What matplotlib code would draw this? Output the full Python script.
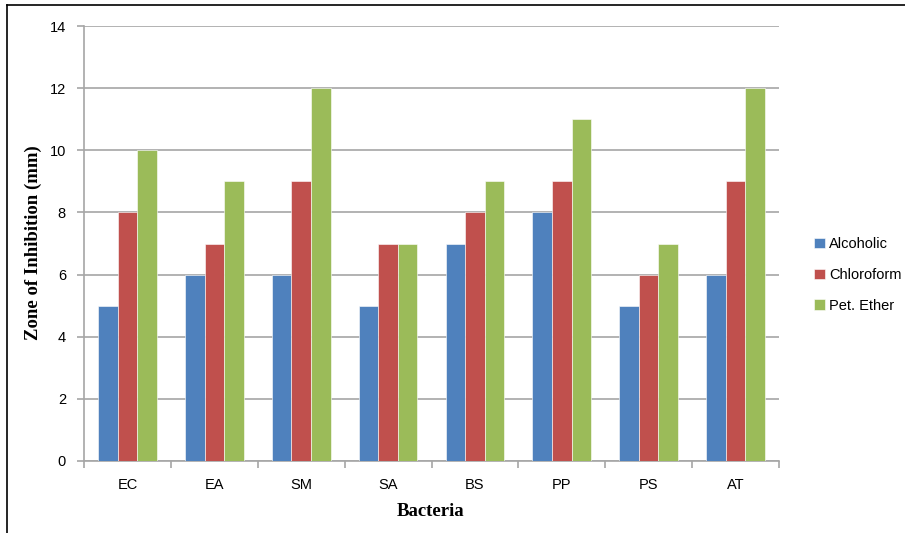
import matplotlib
matplotlib.use("Agg")
import matplotlib.pyplot as plt
import numpy as np
from matplotlib.lines import Line2D

categories = ["EC", "EA", "SM", "SA", "BS", "PP", "PS", "AT"]
alcoholic = [5, 6, 6, 5, 7, 8, 5, 6]
chloroform = [8, 7, 9, 7, 8, 9, 6, 9]
pet_ether = [10, 9, 12, 7, 9, 11, 7, 12]
series_names = ["Alcoholic", "Chloroform", "Pet. Ether"]
colors = ["#4F81BD", "#C0504D", "#9BBB59"]

W, H = 905, 533
fig = plt.figure(figsize=(W / 100, H / 100), dpi=100)
ax = fig.add_axes([84 / W, 1 - 461 / H, (779 - 84) / W, (461 - 26) / H])

x = np.arange(len(categories))
bw = 0.225
for i, (vals, name, c) in enumerate(zip([alcoholic, chloroform, pet_ether], series_names, colors)):
    ax.bar(x + (i - 1) * bw, vals, width=bw, color=c, label=name,
           edgecolor="white", linewidth=0.4, zorder=3)

ax.set_xlim(-0.5, len(categories) - 0.5)
ax.set_ylim(0, 14)
ax.set_yticks(np.arange(0, 15, 2))
ax.yaxis.grid(True, color="#A6A6A6", linewidth=1.2, zorder=0)
ax.set_axisbelow(True)

ax.set_xticks(x)
ax.set_xticklabels(categories, fontsize=10.5, family="Liberation Sans")
ax.set_xticks(np.arange(-0.5, len(categories)), minor=True)
ax.tick_params(axis="x", which="major", length=0, pad=12)
ax.tick_params(axis="x", which="minor", length=5, color="#A6A6A6", width=1.2)
ax.tick_params(axis="y", length=5, color="#A6A6A6", width=1.2, labelsize=10.5, pad=8)
for lbl in ax.get_yticklabels():
    lbl.set_family("Liberation Sans")

for s in ["top", "right"]:
    ax.spines[s].set_visible(False)
for s in ["left", "bottom"]:
    ax.spines[s].set_color("#A6A6A6")
    ax.spines[s].set_linewidth(1.2)

fig.text(431 / W, 1 - 512 / H, "Bacteria", ha="center", va="center",
         fontsize=13.5, fontweight="bold", family="Liberation Serif")
fig.text(33 / W, 1 - 243 / H, "Zone of Inhibition (mm)", ha="center", va="center",
         rotation=90, fontsize=13.5, fontweight="bold", family="Liberation Serif")

leg = ax.legend(loc="center left", bbox_to_anchor=(801 / W, 1 - 275 / H),
                bbox_transform=fig.transFigure, frameon=False,
                prop={"family": "Liberation Sans", "size": 10.5},
                handlelength=0.75, handleheight=0.75, handletextpad=0.3,
                labelspacing=1.15)

# outer frame lines
fig.add_artist(Line2D([7 / W, 1], [1 - 5 / H, 1 - 5 / H], color="black", linewidth=1.2,
                      transform=fig.transFigure))
fig.add_artist(Line2D([7 / W, 7 / W], [0, 1 - 5 / H], color="black", linewidth=1.2,
                      transform=fig.transFigure))

fig.savefig("out.png", dpi=100)
